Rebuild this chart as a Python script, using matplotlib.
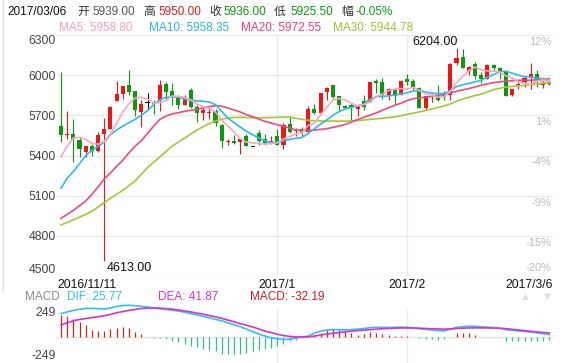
import matplotlib.pyplot as plt
import numpy as np
from matplotlib.lines import Line2D

plt.rcParams['font.family'] = ['Liberation Sans', 'Noto Sans CJK SC']

# 日K数据 2016/11/11 - 2017/3/6
opens = [5620, 5553, 5560, 5518, 5425, 5468, 5437, 5557, 5600, 5805,
         5860, 5925, 5880, 5725, 5792, 5795, 5812, 5932, 5880, 5832,
         5775, 5887, 5762, 5720, 5718, 5730, 5625, 5498, 5512, 5500,
         5545, 5465, 5567, 5520, 5495, 5542, 5482, 5637, 5582, 5595,
         5575, 5745, 5720, 5875, 5930, 5845, 5767, 5775, 5745, 5805,
         5800, 5957, 5950, 5845, 5900, 5850, 5975, 5955, 5907, 5757,
         5835, 5855, 5870, 5850, 6092, 6137, 6030, 6087, 6000, 5975,
         6075, 6057, 6025, 5850, 5925, 5950, 5980, 6012, 5930, 5939]
highs = [6025, 5730, 5670, 5537, 5470, 5487, 5575, 5680, 5770, 5955,
         5918, 6042, 5880, 5817, 5867, 5817, 5967, 5950, 5942, 5855,
         5855, 5907, 5780, 5762, 5755, 5745, 5637, 5520, 5555, 5530,
         5562, 5467, 5587, 5557, 5542, 5600, 5645, 5695, 5605, 5612,
         5770, 5787, 5870, 5912, 5930, 5845, 5780, 5795, 5775, 5850,
         5950, 5970, 5980, 5907, 5907, 5962, 6005, 5975, 5912, 5842,
         5862, 5925, 5880, 6092, 6204, 6195, 6070, 6100, 6025, 6087,
         6087, 6062, 6037, 5900, 5950, 5995, 6092, 6042, 5955, 5950]
lows = [5500, 5525, 5355, 5387, 5392, 5395, 5425, 4613, 5600, 5805,
        5825, 5850, 5692, 5612, 5750, 5707, 5730, 5825, 5775, 5745,
        5775, 5755, 5650, 5667, 5675, 5620, 5455, 5475, 5487, 5412,
        5470, 5463, 5475, 5475, 5487, 5475, 5445, 5570, 5545, 5545,
        5575, 5707, 5717, 5812, 5830, 5730, 5745, 5662, 5692, 5737,
        5800, 5870, 5820, 5812, 5787, 5850, 5925, 5887, 5757, 5737,
        5800, 5805, 5812, 5812, 6075, 6050, 6000, 5975, 5945, 5970,
        6037, 5975, 5845, 5842, 5900, 5912, 5900, 5912, 5905, 5925.5]
closes = [5555, 5557, 5525, 5450, 5468, 5432, 5550, 5600, 5762, 5862,
          5918, 5875, 5740, 5787, 5792, 5785, 5925, 5875, 5842, 5775,
          5825, 5762, 5720, 5737, 5722, 5645, 5505, 5502, 5497, 5520,
          5470, 5465, 5512, 5495, 5510, 5480, 5630, 5575, 5592, 5575,
          5745, 5717, 5870, 5907, 5837, 5780, 5755, 5762, 5770, 5762,
          5950, 5945, 5850, 5895, 5845, 5957, 5950, 5907, 5757, 5842,
          5840, 5812, 5837, 6080, 6130, 6050, 6062, 5995, 5975, 6075,
          6050, 6032, 5845, 5895, 5932, 5980, 6005, 5962, 5937, 5936]

ma5 = [5390, 5470, 5530, 5535, 5520, 5490, 5485, 5505, 5560, 5640,
       5725, 5785, 5830, 5835, 5822, 5790, 5795, 5810, 5845, 5840,
       5835, 5815, 5785, 5765, 5750, 5725, 5665, 5620, 5575, 5525,
       5500, 5495, 5490, 5485, 5490, 5495, 5525, 5540, 5560, 5570,
       5625, 5640, 5705, 5760, 5815, 5825, 5815, 5790, 5770, 5780,
       5800, 5840, 5860, 5885, 5895, 5900, 5895, 5910, 5885, 5860,
       5850, 5835, 5840, 5880, 5945, 5990, 6035, 6060, 6042, 6031,
       6031, 6025, 5995, 5978, 5950, 5937, 5931, 5955, 5963, 5958.8]
ma10 = [5155, 5230, 5280, 5340, 5400, 5437, 5470, 5500, 5555, 5590,
        5620, 5645, 5670, 5700, 5735, 5780, 5815, 5835, 5838, 5835,
        5822, 5812, 5807, 5805, 5800, 5780, 5730, 5680, 5645, 5612,
        5580, 5555, 5530, 5510, 5497, 5497, 5510, 5520, 5528, 5535,
        5565, 5600, 5635, 5665, 5700, 5728, 5748, 5760, 5770, 5785,
        5820, 5840, 5842, 5845, 5852, 5860, 5868, 5882, 5885, 5875,
        5866, 5862, 5862, 5885, 5915, 5928, 5938, 5950, 5962, 5985,
        6005, 6025, 6030, 6015, 6000, 5988, 5985, 5978, 5968, 5958.35]
ma20 = [4931, 4960, 4990, 5025, 5060, 5110, 5165, 5225, 5270, 5320,
        5365, 5420, 5470, 5510, 5565, 5620, 5670, 5695, 5710, 5720,
        5730, 5737, 5745, 5755, 5765, 5772, 5768, 5755, 5740, 5725,
        5705, 5690, 5672, 5655, 5643, 5630, 5618, 5605, 5590, 5588,
        5587, 5590, 5595, 5600, 5610, 5620, 5632, 5650, 5668, 5685,
        5702, 5718, 5738, 5757, 5775, 5790, 5810, 5825, 5830, 5836,
        5842, 5850, 5855, 5868, 5880, 5890, 5900, 5912, 5925, 5935,
        5945, 5950, 5955, 5958, 5962, 5962, 5962, 5965, 5968, 5972.55]
ma30 = [4881, 4900, 4920, 4940, 4960, 4985, 5015, 5048, 5080, 5110,
        5140, 5175, 5210, 5260, 5310, 5350, 5390, 5430, 5470, 5500,
        5530, 5560, 5590, 5615, 5638, 5658, 5672, 5680, 5684, 5685,
        5684, 5682, 5682, 5682, 5683, 5685, 5687, 5686, 5678, 5670,
        5663, 5660, 5658, 5657, 5657, 5657, 5657, 5659, 5661, 5665,
        5670, 5674, 5678, 5683, 5688, 5697, 5707, 5716, 5726, 5736,
        5748, 5759, 5770, 5785, 5805, 5822, 5835, 5848, 5858, 5875,
        5892, 5902, 5912, 5916, 5920, 5925, 5930, 5935, 5940, 5944.78]

dif = [238, 255, 270, 282, 290, 292, 288, 284, 295, 310,
       320, 322, 318, 312, 305, 296, 287, 280, 272, 264,
       252, 238, 225, 210, 195, 180, 165, 145, 125, 105,
       80, 55, 30, 10, -8, -18, -25, -22, -10, 0,
       10, 40, 60, 72, 75, 74, 73, 76, 80, 86,
       95, 99, 98, 97, 99, 100, 99, 95, 85, 78,
       72, 65, 62, 80, 97, 105, 110, 108, 104, 100,
       97, 90, 75, 68, 62, 57, 50, 42, 33, 25.77]
dea = [121, 145, 165, 178, 188, 197, 206, 216, 230, 246,
       258, 270, 280, 290, 294, 295, 293, 289, 283, 275,
       265, 255, 243, 232, 218, 205, 190, 172, 155, 135,
       120, 102, 82, 60, 45, 28, 15, 6, 1, 0,
       2, 10, 20, 30, 38, 46, 53, 60, 65, 70,
       75, 80, 84, 87, 90, 92, 92, 91, 89, 87,
       84, 82, 80, 82, 86, 90, 92, 93, 93, 92,
       91, 89, 85, 78, 72, 65, 58, 52, 47, 41.87]
macd = [227, 209, 183, 154, 117, 73, 62, 66, 80, 91,
        99, 91, 48, 26, 0, -7, -11, -18, -37, -55,
        -73, -91, -102, -117, -135, -146, -172, -176, -176, -168,
        -161, -146, -135, -117, -110, -91, -66, -44, -29, -11,
        11, 18, 37, 73, 84, 73, 62, 37, 18, 26,
        48, 37, 26, 18, 15, 11, 7, 4, -7, -18,
        -18, -26, -18, 0, 37, 37, 37, 18, 0, -4,
        -4, -4, -37, -44, -44, -44, -44, -37, -37, -32.19]

price_ticks = [4500, 4800, 5100, 5400, 5700, 6000, 6300]
pct_labels = ['-20%', '-15%', '-9%', '-4%', '1%', '6%', '12%']
date_labels = ['2016/11/11', '2017/1', '2017/2', '2017/3/6']
date_index = [0, 35, 56, 79]

W, H = 563, 363
def fx(x):
    return x / W
def fy(y):
    return 1 - y / H

fig = plt.figure(figsize=(5.63, 3.63), dpi=100)
ax = fig.add_axes([fx(57), fy(276), (553 - 57) / W, (276 - 35) / H])
am = fig.add_axes([fx(57), fy(363), (553 - 57) / W, (363 - 300) / H])

o = np.array(opens); c = np.array(closes)
h = np.array(highs); l = np.array(lows)
x = np.arange(len(c))
col = np.where(c > o, '#f01414', np.where(c < o, '#0c990c', '#000000'))

ax.vlines(x, l, h, colors=col, lw=0.8, zorder=3)
ax.bar(x, np.maximum(np.abs(c - o), 7), bottom=np.minimum(o, c), width=0.66,
       color=col, lw=0, zorder=4)

ax.plot(x, ma30, color='#a3c83a', lw=1.2, zorder=5)
ax.plot(x, ma20, color='#ef4a7d', lw=1.2, zorder=5)
ax.plot(x, ma10, color='#2cbce4', lw=1.2, zorder=5)
ax.plot(x, ma5, color='#f9a6c0', lw=1.2, zorder=6)

ax.set_xlim(-0.647, 79.61)
ax.set_ylim(4500, 6300)
for t in price_ticks:
    ax.axhline(t, color='#ebebeb', lw=1, zorder=0)
for i in date_index[1:3]:
    ax.axvline(i, color='#ebebeb', lw=1, zorder=0)
    am.axvline(i, ymax=0.85, color='#ebebeb', lw=1, zorder=0)
ax.set_yticks(price_ticks)
ax.set_yticklabels([str(t) for t in price_ticks])
ax.tick_params(axis='y', length=0, pad=1, labelsize=8.7, labelcolor='#444444')
ax.get_yticklabels()[0].set_va('bottom')
ax.get_yticklabels()[-1].set_va('top')
ax.set_xticks([])
for s in ax.spines.values():
    s.set_visible(False)

for t, p in zip(price_ticks, pct_labels):
    dy = 5.5 if t == price_ticks[0] else -5
    ax.annotate(p, xy=(1, t), xycoords=('axes fraction', 'data'), xytext=(-1, dy),
                textcoords='offset points', ha='right', va='center',
                fontsize=8, color='#bbbbbb', zorder=1)

ih = int(np.argmax(h)); il = int(np.argmin(l))
ax.annotate('%.2f' % h[ih], xy=(ih, h[ih]), xytext=(1, 0), textcoords='offset points',
            ha='right', va='bottom', fontsize=9, color='#111111')
ax.annotate('%.2f' % l[il], xy=(il, l[il]), xytext=(2, -1), textcoords='offset points',
            ha='left', va='top', fontsize=9, color='#111111')

# MACD
hc = ['#c4281c' if v > 0 else '#2dc08d' for v in macd]
am.vlines(x, 0, macd, colors=hc, lw=0.9, zorder=2)
am.plot(x, dif, color='#2ec2ef', lw=1.2, zorder=3)
am.plot(x, dea, color='#d634c6', lw=1.2, zorder=3)
am.axhline(0, color='#e3e3e3', lw=1, zorder=0)
am.set_xlim(-0.647, 79.61)
am.set_ylim(-264, 376)
am.set_xticks([]); am.set_yticks([])
for s in am.spines.values():
    s.set_visible(False)
am.annotate('249', xy=(0, 249), xycoords=('axes fraction', 'data'), xytext=(-1, 0),
            textcoords='offset points', ha='right', va='center', fontsize=8.7, color='#444444')
am.annotate('-249', xy=(0, -249), xycoords=('axes fraction', 'data'), xytext=(-1, 0),
            textcoords='offset points', ha='right', va='bottom', fontsize=8.7, color='#444444')

# 日期
fig.text(fx(57), fy(285), date_labels[0], ha='left', va='center', fontsize=8.7, color='#111111')
for lab, i in zip(date_labels[1:3], date_index[1:3]):
    fig.text(fx(61 + 6.18 * i), fy(285), lab, ha='center', va='center', fontsize=8.7, color='#111111')
fig.text(fx(553), fy(285), date_labels[3], ha='right', va='center', fontsize=8.7, color='#111111')

# 顶部信息
top = [(7, '2017/03/06', '#111111'), (77, '开', '#333333'), (92, '5939.00', '#555555'),
       (143, '高', '#333333'), (158, '5950.00', '#f01414'), (209, '收', '#333333'),
       (223, '5936.00', '#0c990c'), (274, '低', '#333333'), (290, '5925.50', '#0c990c'),
       (341, '幅', '#333333'), (356, '-0.05%', '#0c990c')]
for px, s, cc in top:
    fig.text(fx(px), fy(12), s, ha='left', va='center', fontsize=8.5, color=cc)

legend = [(59, 'MA5: %.2f' % ma5[-1], '#f9a0bc'), (149, 'MA10: %.2f' % ma10[-1], '#27b5e3'),
          (241, 'MA20: %.2f' % ma20[-1], '#ee3f78'), (333, 'MA30: %.2f' % ma30[-1], '#9fc236')]
for px, s, cc in legend:
    fig.text(fx(px), fy(28), s, ha='left', va='center', fontsize=8.5, color=cc)

mlab = [(25, 'MACD', '#8a8a8a'), (67, 'DIF: %.2f' % dif[-1], '#2ec2ef'),
        (158, 'DEA: %.2f' % dea[-1], '#d634c6'), (250, 'MACD: %.2f' % macd[-1], '#d01c1c')]
for px, s, cc in mlab:
    fig.text(fx(px), fy(297), s, ha='left', va='center', fontsize=8.5, color=cc)
fig.text(fx(525), fy(297), '▲', ha='center', va='center', fontsize=8, color='#dddddd')
fig.text(fx(547), fy(297), '▼', ha='center', va='center', fontsize=8, color='#dddddd')

fig.add_artist(Line2D([fx(3), fx(3)], [fy(0), fy(290)], color='#cfe2f0', lw=1))

plt.savefig('out.png', dpi=100)
